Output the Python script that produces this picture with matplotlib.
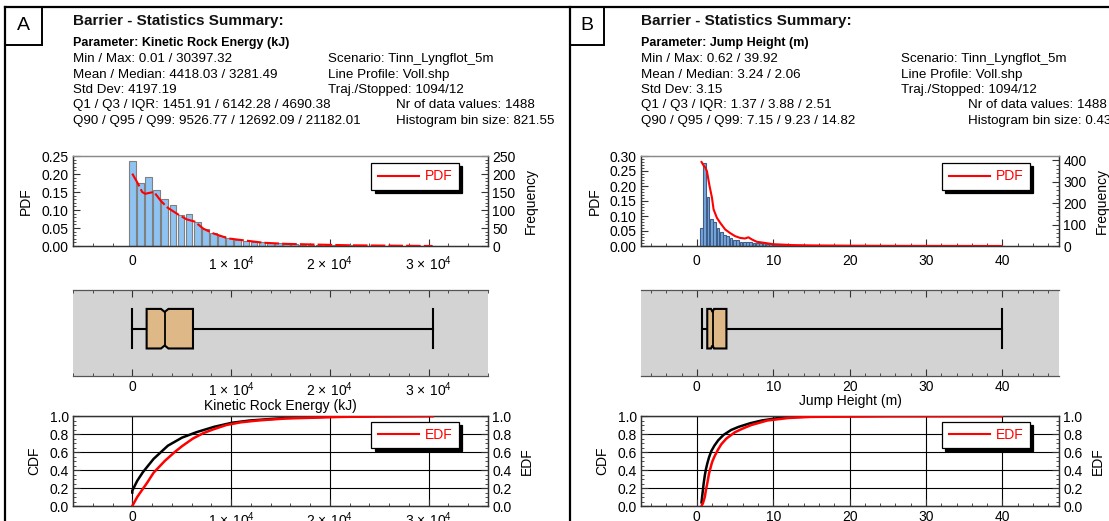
import matplotlib
matplotlib.use('Agg')
import matplotlib.pyplot as plt
from matplotlib.ticker import MultipleLocator, FormatStrFormatter
from matplotlib.patches import Rectangle, Polygon
from matplotlib.lines import Line2D

plt.rcParams['font.family'] = ['Liberation Sans', 'DejaVu Sans']
plt.rcParams['mathtext.fontset'] = 'custom'
plt.rcParams['mathtext.rm'] = 'Liberation Sans'
plt.rcParams['mathtext.it'] = 'Liberation Sans:italic'

W, H = 1109, 521

# ---------------- Panel A data ----------------
a_label = "A"
a_title = "Barrier - Statistics Summary:"
a_param = "Parameter: Kinetic Rock Energy (kJ)"
a_left_lines = ["Min / Max: 0.01 / 30397.32",
                "Mean / Median: 4418.03 / 3281.49",
                "Std Dev: 4197.19",
                "Q1 / Q3 / IQR: 1451.91 / 6142.28 / 4690.38",
                "Q90 / Q95 / Q99: 9526.77 / 12692.09 / 21182.01"]
a_right_lines = ["Scenario: Tinn_Lyngflot_5m",
                 "Line Profile: Voll.shp",
                 "Traj./Stopped: 1094/12"]
a_right2_lines = ["Nr of data values: 1488",
                  "Histogram bin size: 821.55"]
a_xlabel = "Kinetic Rock Energy (kJ)"
a_min, a_q1, a_med, a_q3, a_max = 0.01, 1451.91, 3281.49, 6142.28, 30397.32
a_n = 1488
a_bin = 821.55
a_freq = [237, 174, 191, 155, 130, 115, 85, 90, 67, 48, 36, 28, 23, 18, 15,
          12, 10, 8, 7, 6, 5, 4, 4, 3, 3, 2, 2, 2, 1, 1, 1, 1, 1, 1, 0, 1, 0, 1]
a_pdf_x = [0, 600, 1000, 1300, 1800, 2200, 2900, 3600, 4500, 5500, 6300, 7200,
           8200, 9700, 11200, 13300, 15500, 18500, 22000, 26000, 30400]
a_pdf_y = [0.201, 0.172, 0.150, 0.145, 0.148, 0.150, 0.125, 0.106, 0.090, 0.074,
           0.068, 0.048, 0.035, 0.021, 0.016, 0.009, 0.006, 0.004, 0.002, 0.001, 0.0]
a_cdf_x = [0, 0, 500, 1080, 2160, 3600, 5040, 6490, 8290, 10090, 11900, 15500,
           20000, 25000, 30397]
a_cdf_y = [0.15, 0.17, 0.28, 0.377, 0.524, 0.67, 0.76, 0.82, 0.88, 0.925, 0.95,
           0.978, 0.993, 0.998, 1.0]
a_edf_x = [0, 500, 1000, 1452, 2160, 3281, 4300, 5040, 6142, 7200, 8290, 9527,
           11000, 12692, 15500, 21182, 25000, 30397]
a_edf_y = [0.0, 0.1, 0.18, 0.25, 0.37, 0.5, 0.6, 0.665, 0.75, 0.81, 0.855, 0.9,
           0.93, 0.95, 0.972, 0.99, 0.996, 1.0]
a_xlim = (-6000, 36000)
a_xticks = [0, 10000, 20000, 30000]
a_xticklabels = ['0', r'$1\,\times\,10^{4}$', r'$2\,\times\,10^{4}$', r'$3\,\times\,10^{4}$']
a_pdf_ticks = [0.00, 0.05, 0.10, 0.15, 0.20, 0.25]
a_freq_ticks = [0, 50, 100, 150, 200, 250]

# ---------------- Panel B data ----------------
b_label = "B"
b_title = "Barrier - Statistics Summary:"
b_param = "Parameter: Jump Height (m)"
b_left_lines = ["Min / Max: 0.62 / 39.92",
                "Mean / Median: 3.24 / 2.06",
                "Std Dev: 3.15",
                "Q1 / Q3 / IQR: 1.37 / 3.88 / 2.51",
                "Q90 / Q95 / Q99: 7.15 / 9.23 / 14.82"]
b_right_lines = ["Scenario: Tinn_Lyngflot_5m",
                 "Line Profile: Voll.shp",
                 "Traj./Stopped: 1094/12"]
b_right2_lines = ["Nr of data values: 1488",
                  "Histogram bin size: 0.43"]
b_xlabel = "Jump Height (m)"
b_min, b_q1, b_med, b_q3, b_max = 0.62, 1.37, 2.06, 3.88, 39.92
b_n = 1488
b_bin = 0.43
b_freq = [85, 388, 227, 125, 110, 85, 65, 52, 45, 38, 30, 26, 20, 18, 20, 17,
          16, 15, 14, 13, 9, 8, 7, 6, 5, 5, 4, 4, 3, 3, 2, 2, 1,
          2, 2, 2, 1, 2, 1, 1, 1, 0, 1, 1, 0, 1, 0, 1, 0, 0, 1, 0, 0,
          1, 0, 0, 0, 0, 1, 0, 0, 0, 0, 0, 0, 0, 0, 0, 0, 0, 0, 0, 0,
          0, 0, 0, 0, 0, 0, 0, 0, 0, 0, 0, 0, 0, 0, 0, 0, 0, 0, 0, 1]
b_pdf_x = [0.62, 0.9, 1.1, 1.33, 1.67, 1.98, 2.2, 2.63, 3.07, 3.72, 4.37, 5.0,
           5.67, 6.3, 6.76, 7.2, 7.85, 8.7, 10.0, 12.6, 15.0, 20.0, 25.0, 30.0, 39.92]
b_pdf_y = [0.280, 0.268, 0.262, 0.249, 0.200, 0.162, 0.122, 0.094, 0.077, 0.055,
           0.043, 0.033, 0.027, 0.025, 0.029, 0.022, 0.014, 0.011, 0.006, 0.003,
           0.002, 0.001, 0.0005, 0.0003, 0.0]
b_cdf_x = [0.62, 0.75, 0.9, 1.05, 1.2, 1.4, 1.6, 1.9, 2.3, 2.8, 3.5, 4.5, 5.5,
           7.0, 8.5, 10.5, 13.0, 18.0, 25.0, 39.92]
b_cdf_y = [0.04, 0.14, 0.25, 0.34, 0.41, 0.48, 0.54, 0.61, 0.67, 0.73, 0.79,
           0.845, 0.88, 0.92, 0.95, 0.975, 0.99, 0.998, 1.0, 1.0]
b_edf_x = [0.62, 0.8, 1.05, 1.2, 1.37, 1.6, 1.91, 2.06, 2.34, 2.77, 3.2, 3.88,
           5.0, 6.0, 7.15, 9.23, 12.0, 14.82, 25.0, 39.92]
b_edf_y = [0.0, 0.03, 0.1, 0.18, 0.25, 0.36, 0.46, 0.5, 0.555, 0.625, 0.685,
           0.75, 0.82, 0.86, 0.9, 0.95, 0.978, 0.99, 0.998, 1.0]
b_xlim = (-7.3, 47.4)
b_xticks = [0, 10, 20, 30, 40]
b_xticklabels = ['0', '10', '20', '30', '40']
b_pdf_ticks = [0.00, 0.05, 0.10, 0.15, 0.20, 0.25, 0.30]
b_freq_ticks = [0, 100, 200, 300, 400]

# ---------------- styling ----------------
FS = 10
BOX_FACE = '#deb887'
SPINE = '#333333'

fig = plt.figure(figsize=(W / 100, H / 100), dpi=100)
fig.patch.set_facecolor('white')


def rect(x0, y0, x1, y1):
    return [x0 / W, 1 - y1 / H, (x1 - x0) / W, (y1 - y0) / H]


def fline(xs, ys, lw=1.6):
    fig.add_artist(Line2D([x / W for x in xs], [1 - y / H for y in ys],
                          transform=fig.transFigure, color='black', lw=lw))


def style_ticks(ax, axis, major_len=5, minor_len=2.5, pad=3):
    ax.tick_params(axis=axis, which='major', direction='in', length=major_len,
                   width=0.8, labelsize=FS, color=SPINE, pad=pad)
    ax.tick_params(axis=axis, which='minor', direction='in', length=minor_len,
                   width=0.6, color=SPINE)


def add_legend(ax, text, anchor):
    h = Line2D([], [], color='red', lw=1.5)
    leg = ax.legend([h], [text], loc='upper right', bbox_to_anchor=anchor,
                    borderaxespad=0, frameon=True, fancybox=False,
                    edgecolor='black', framealpha=1, labelcolor='red',
                    fontsize=FS, handlelength=3.0, handletextpad=0.4,
                    borderpad=0.45,
                    shadow={'ox': 2.2, 'oy': -2.2, 'facecolor': 'black',
                            'edgecolor': 'black', 'alpha': 1})
    leg.get_frame().set_linewidth(0.9)
    return leg


def draw_panel(x0, x1, tx, rx, r2x, label_box, label, title, param, left_lines,
               right_lines, right2_lines, xlabel, stats, bin_size, freq,
               bar_face, bar_edge, pdf_x, pdf_y, pdf_ls, cdf_x, cdf_y, edf_x,
               edf_y, xlim, xticks, xticklabels, xminor, pdf_ticks, pdf_minor,
               freq_ticks, freq_minor, freq_top):
    vmin, q1, med, q3, vmax = stats
    # label box
    bx0, by0, bx1, by1 = label_box
    fig.add_artist(Rectangle((bx0 / W, 1 - by1 / H), (bx1 - bx0) / W,
                             (by1 - by0) / H, transform=fig.transFigure,
                             fill=False, edgecolor='black', lw=1.4))
    fig.text((bx0 + bx1) / 2 / W, 1 - (by0 + by1) / 2 / H, label,
             ha='center', va='center', fontsize=14)
    # header texts
    fig.text(tx / W, 1 - 21 / H, title, fontsize=11, fontweight='bold',
             va='center', ha='left', color='#111111')
    fig.text(tx / W, 1 - 43 / H, param, fontsize=9, fontweight='bold',
             va='center', ha='left')
    rows = [59, 75, 90, 105, 121]
    for yy, s in zip(rows, left_lines):
        fig.text(tx / W, 1 - yy / H, s, fontsize=9.6, va='center', ha='left')
    for yy, s in zip(rows[:3], right_lines):
        fig.text(rx / W, 1 - yy / H, s, fontsize=9.6, va='center', ha='left')
    for yy, s in zip(rows[3:], right2_lines):
        fig.text(r2x / W, 1 - yy / H, s, fontsize=9.6, va='center', ha='left')

    # ---------- histogram ----------
    axF = fig.add_axes(rect(x0, 156, x1, 246))
    axP = axF.twinx()
    axF.yaxis.tick_right()
    axF.yaxis.set_label_position('right')
    axP.yaxis.tick_left()
    axP.yaxis.set_label_position('left')
    centers = [vmin + i * bin_size for i in range(len(freq))]
    axF.bar(centers, freq, width=0.82 * bin_size, color=bar_face,
            edgecolor=bar_edge, linewidth=0.8, zorder=2)
    axP.plot(pdf_x, pdf_y, color='red', lw=1.5, linestyle=pdf_ls, zorder=3)
    axF.set_xlim(*xlim)
    axF.set_ylim(0, freq_top)
    axP.set_ylim(0, pdf_ticks[-1])
    axF.set_xticks(xticks)
    axF.set_xticklabels(xticklabels)
    axF.xaxis.set_minor_locator(MultipleLocator(xminor))
    axF.set_yticks(freq_ticks)
    axF.yaxis.set_minor_locator(MultipleLocator(freq_minor))
    axP.set_yticks(pdf_ticks)
    axP.yaxis.set_major_formatter(FormatStrFormatter('%.2f'))
    axP.yaxis.set_minor_locator(MultipleLocator(pdf_minor))
    for a in (axF, axP):
        style_ticks(a, 'y')
        for sp in a.spines.values():
            sp.set_color(SPINE)
            sp.set_linewidth(0.9)
        a.spines['top'].set_color('#8a8a8a')
    style_ticks(axF, 'x', pad=6)
    axF.tick_params(axis='x', which='both', top=False)
    axP.set_ylabel('PDF', fontsize=FS, labelpad=6)
    axF.set_ylabel('Frequency', fontsize=FS, labelpad=6)
    add_legend(axP, 'PDF', (0.93, 0.92))

    # ---------- box plot ----------
    axB = fig.add_axes(rect(x0, 290, x1, 376))
    axB.set_facecolor('#d3d3d3')
    axB.set_xlim(*xlim)
    axB.set_ylim(0, 1)
    axB.set_yticks([])
    axB.spines['left'].set_visible(False)
    axB.spines['right'].set_visible(False)
    for s in ('top', 'bottom'):
        axB.spines[s].set_color('#555555')
        axB.spines[s].set_linewidth(0.9)
    axB.set_xticks(xticks)
    axB.set_xticklabels(xticklabels)
    axB.xaxis.set_minor_locator(MultipleLocator(xminor))
    style_ticks(axB, 'x', pad=3)
    axB.tick_params(axis='x', which='both', top=True, bottom=True)
    lo, hi, mid = 0.32, 0.78, 0.55
    nh = 0.08 * (q3 - q1)
    dd = 0.035
    axB.plot([vmin, q1], [mid, mid], color='black', lw=1.5, zorder=2)
    axB.plot([q3, vmax], [mid, mid], color='black', lw=1.5, zorder=2)
    axB.plot([vmin, vmin], [lo, hi], color='black', lw=1.5, zorder=2)
    axB.plot([vmax, vmax], [lo, hi], color='black', lw=1.5, zorder=2)
    box = Polygon([(q1, lo), (q1, hi), (med - nh, hi), (med, hi - dd),
                   (med + nh, hi), (q3, hi), (q3, lo), (med + nh, lo),
                   (med, lo + dd), (med - nh, lo)], closed=True,
                  facecolor=BOX_FACE, edgecolor='black', lw=1.5, zorder=3)
    axB.add_patch(box)
    axB.plot([med, med], [lo + dd, hi - dd], color='black', lw=1.3, zorder=4)
    axB.set_xlabel(xlabel, fontsize=FS, labelpad=0)

    # ---------- CDF / EDF ----------
    axC = fig.add_axes(rect(x0, 416, x1, 506))
    axE = axC.twinx()
    axC.plot(cdf_x, cdf_y, color='black', lw=1.8, zorder=3)
    axE.plot(edf_x, edf_y, color='red', lw=1.8, zorder=3)
    axC.set_xlim(*xlim)
    for a in (axC, axE):
        a.set_ylim(0, 1)
        a.set_yticks([0, 0.2, 0.4, 0.6, 0.8, 1.0])
        a.yaxis.set_major_formatter(FormatStrFormatter('%.1f'))
        a.yaxis.set_minor_locator(MultipleLocator(0.05))
        style_ticks(a, 'y')
        for sp in a.spines.values():
            sp.set_color(SPINE)
            sp.set_linewidth(0.9)
    axC.set_xticks(xticks)
    axC.set_xticklabels(xticklabels)
    axC.xaxis.set_minor_locator(MultipleLocator(xminor))
    style_ticks(axC, 'x', pad=3)
    axC.tick_params(axis='x', which='both', top=False)
    axC.grid(True, which='major', color='black', lw=0.8)
    axC.set_axisbelow(True)
    axC.set_ylabel('CDF', fontsize=FS, labelpad=6)
    axE.set_ylabel('EDF', fontsize=FS, labelpad=6)
    add_legend(axE, 'EDF', (0.93, 0.935))


# outer frame
fline([5, 5], [7, 521])
fline([5, 1109], [7, 7])
fline([570, 570], [7, 521])

draw_panel(73, 488, 73, 328, 396, (5, 7, 42, 45), a_label, a_title, a_param,
           a_left_lines, a_right_lines, a_right2_lines, a_xlabel,
           (a_min, a_q1, a_med, a_q3, a_max), a_bin, a_freq,
           '#8ec3f2', '#808080',
           a_pdf_x, a_pdf_y, (0, (7, 1.5)), a_cdf_x, a_cdf_y, a_edf_x, a_edf_y,
           a_xlim, a_xticks, a_xticklabels, 2000, a_pdf_ticks, 0.01,
           a_freq_ticks, 10, 250)

draw_panel(641, 1059, 641, 901, 968, (570, 7, 604, 45), b_label, b_title, b_param,
           b_left_lines, b_right_lines, b_right2_lines, b_xlabel,
           (b_min, b_q1, b_med, b_q3, b_max), b_bin, b_freq,
           '#76a6dc', '#3f5f8a',
           b_pdf_x, b_pdf_y, '-', b_cdf_x, b_cdf_y, b_edf_x, b_edf_y,
           b_xlim, b_xticks, b_xticklabels, 2, b_pdf_ticks, 0.01,
           b_freq_ticks, 20, 420)

fig.savefig('out.png', dpi=100)
